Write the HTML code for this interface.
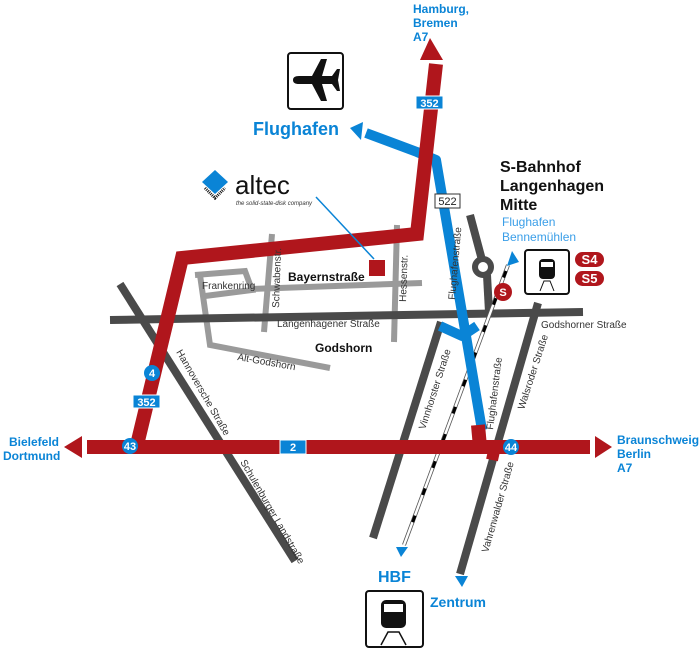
<!DOCTYPE html>
<html><head><meta charset="utf-8"><style>
html,body{margin:0;padding:0;background:#fff;width:700px;height:650px;overflow:hidden}
svg{display:block}
text{font-family:"Liberation Sans",sans-serif}
.b{font-weight:bold;fill:#0a84d6}
.s{font-size:10px;fill:#333}
</style></head><body>
<svg width="700" height="650" viewBox="0 0 700 650" xmlns="http://www.w3.org/2000/svg">
<g stroke="#9a9a9a" stroke-width="6" fill="none">
<polyline points="195,275 245,271 252,290 205,296"/>
<polyline points="200,275 210,345 330,368"/>
<line x1="250" y1="289" x2="422" y2="283"/>
<line x1="272" y1="234" x2="264" y2="332"/>
<line x1="397" y1="225" x2="394" y2="342"/>
</g>
<g stroke="#4a4a4a" stroke-width="8" fill="none">
<line x1="110" y1="320" x2="583" y2="312"/>
<line x1="120" y1="284" x2="295" y2="561"/>
<line x1="441" y1="322" x2="373" y2="538"/>
<line x1="538" y1="303" x2="460" y2="574"/>
<polyline points="470,215 482,260"/>
<line x1="487" y1="275" x2="489" y2="312"/>
<circle cx="483" cy="267" r="8" stroke-width="6"/>
</g>
<g>
<line x1="508" y1="265" x2="404" y2="545" stroke="#555" stroke-width="4"/>
<line x1="508" y1="265" x2="404" y2="545" stroke="#fff" stroke-width="2.4"/>
<line x1="506" y1="271" x2="406" y2="540" stroke="#000" stroke-width="3" stroke-dasharray="7 22"/>
<polygon points="512,251 507,266 519,262" fill="#0a84d6"/>
<polygon points="396,547 408,547 401,557" fill="#0a84d6"/>
<polygon points="455,576 468,576 462,587" fill="#0a84d6"/>
</g>
<g stroke="#0a84d6" stroke-width="10" fill="none" stroke-linejoin="round">
<polyline points="366,133 417,152 436,160 482,430"/>
<polyline points="440,326 462,336 477,326"/>
</g>
<polygon points="350,128 363,122 361,140" fill="#0a84d6"/>
<g stroke="#b0161c" stroke-width="14" fill="none" stroke-linejoin="miter">
<polyline points="436,64 417,234 182,258 137,445"/>
<line x1="87" y1="447" x2="590" y2="447"/>
<line x1="478" y1="425" x2="480" y2="447"/>
<line x1="496" y1="442" x2="492" y2="460" stroke-width="12"/>
</g>
<polygon points="430,38 420,60 443,60" fill="#b0161c"/>
<polygon points="64,447 82,436 82,458" fill="#b0161c"/>
<polygon points="595,436 595,458 612,447" fill="#b0161c"/>
<rect x="369" y="260" width="16" height="16" fill="#b0161c"/>
<line x1="316" y1="197" x2="374" y2="259" stroke="#0a84d6" stroke-width="1.5"/>
<g font-family="Liberation Sans" font-weight="bold" font-size="11" text-anchor="middle">
<rect x="416" y="96" width="27" height="13" fill="#0a84d6" stroke="#fff"/><text x="429.5" y="107" fill="#fff">352</text>
<rect x="133" y="395" width="27" height="13" fill="#0a84d6" stroke="#fff"/><text x="146.5" y="406" fill="#fff">352</text>
<rect x="280" y="440" width="26" height="14" fill="#0a84d6" stroke="#fff"/><text x="293" y="451" fill="#fff">2</text>
<rect x="435" y="194" width="25" height="14" fill="#fff" stroke="#333"/><text x="447.5" y="205" fill="#222" font-weight="normal">522</text>
<circle cx="130" cy="446" r="8" fill="#0a84d6"/><text x="130" y="450" fill="#fff">43</text>
<circle cx="152" cy="373" r="8" fill="#0a84d6"/><text x="152" y="377" fill="#fff">4</text>
<circle cx="511" cy="447" r="8" fill="#0a84d6"/><text x="511" y="451" fill="#fff">44</text>
<circle cx="503" cy="292" r="9" fill="#b0161c"/><text x="503" y="296" fill="#fff">S</text>
<rect x="575" y="252" width="29" height="15" rx="7.5" fill="#b0161c"/><text x="589.5" y="264" fill="#fff" font-size="13">S4</text>
<rect x="575" y="271" width="29" height="15" rx="7.5" fill="#b0161c"/><text x="589.5" y="283" fill="#fff" font-size="13">S5</text>
</g>
<rect x="288" y="53" width="55" height="56" rx="3" fill="#fff" stroke="#111" stroke-width="2"/>
<path d="M293,80 Q293,76 299,76 L312,76 L321,59 L327,59 L322,76 L332,76 L337,69 L340,69 L338,80 L340,91 L337,91 L332,84 L322,84 L327,101 L321,101 L312,84 L299,84 Q293,84 293,80Z" fill="#111"/>
<g>
<rect x="525" y="250" width="44" height="44" rx="3" fill="#fff" stroke="#111" stroke-width="2"/>
<rect x="539" y="259" width="16" height="20" rx="4" fill="#111"/>
<rect x="541" y="262" width="12" height="5" fill="#fff"/>
<path d="M540,291 L544,281 L550,281 L554,291" stroke="#111" fill="none"/>
<rect x="366" y="591" width="57" height="56" rx="3" fill="#fff" stroke="#111" stroke-width="2"/>
<rect x="381" y="600" width="25" height="28" rx="5" fill="#111"/>
<rect x="384" y="604" width="19" height="8" fill="#fff"/>
<path d="M381,645 L388,632 L399,632 L406,645" stroke="#111" fill="none" stroke-width="1.5"/>
</g>
<polygon points="215,170 228,182 215,194 202,182" fill="#0a84d6"/>
<path d="M205,188 L215,198 L225,188" stroke="#111" stroke-width="3" fill="none" stroke-dasharray="1 1"/>
<text x="235" y="194" font-size="26" fill="#111">altec</text>
<text x="236" y="205" font-size="6" font-style="italic" font-family="Liberation Serif" fill="#333">the solid-state-disk company</text>
<text class="b" x="413" y="13" font-size="12">Hamburg,</text>
<text class="b" x="413" y="27" font-size="12">Bremen</text>
<text class="b" x="413" y="41" font-size="12">A7</text>
<text class="b" x="253" y="135" font-size="18">Flughafen</text>
<text class="b" x="9" y="446" font-size="12">Bielefeld</text>
<text class="b" x="3" y="460" font-size="12">Dortmund</text>
<text class="b" x="617" y="444" font-size="12">Braunschweig</text>
<text class="b" x="617" y="458" font-size="12">Berlin</text>
<text class="b" x="617" y="472" font-size="12">A7</text>
<text class="b" x="378" y="582" font-size="16">HBF</text>
<text class="b" x="430" y="607" font-size="14">Zentrum</text>
<text x="502" y="226" font-size="12" fill="#3a9ee8">Flughafen</text>
<text x="502" y="241" font-size="12" fill="#3a9ee8">Bennemühlen</text>
<g font-weight="bold" fill="#111">
<text x="500" y="172" font-size="16">S-Bahnhof</text>
<text x="500" y="191" font-size="16">Langenhagen</text>
<text x="500" y="210" font-size="16">Mitte</text>
<text x="288" y="281" font-size="12">Bayernstraße</text>
<text x="315" y="352" font-size="12">Godshorn</text>
</g>
<text class="s" x="202" y="289" font-size="9">Frankenring</text>
<text class="s" x="277" y="327">Langenhagener Straße</text>
<text class="s" x="541" y="328">Godshorner Straße</text>
<text class="s" x="0" y="0" font-size="8" transform="translate(237,360) rotate(10)">Alt-Godshorn</text>
<text class="s" x="0" y="0" font-size="8" transform="translate(279,308) rotate(-88)">Schwabenstr.</text>
<text class="s" x="0" y="0" font-size="8" transform="translate(406,302) rotate(-88)">Hessenstr.</text>
<text class="s" x="0" y="0" transform="translate(455,300) rotate(-85)">Flughafenstraße</text>
<text class="s" x="0" y="0" transform="translate(493,430) rotate(-83)">Flughafenstraße</text>
<text class="s" x="0" y="0" transform="translate(425,430) rotate(-72)">Vinnhorster Straße</text>
<text class="s" x="0" y="0" transform="translate(524,410) rotate(-72)">Walsroder Straße</text>
<text class="s" x="0" y="0" transform="translate(488,553) rotate(-74)">Vahrenwalder Straße</text>
<text class="s" x="0" y="0" transform="translate(176,352) rotate(60)">Hannoversche Straße</text>
<text class="s" x="0" y="0" transform="translate(240,462) rotate(60)">Schulenburger Landstraße</text>
</svg>
</body></html>
